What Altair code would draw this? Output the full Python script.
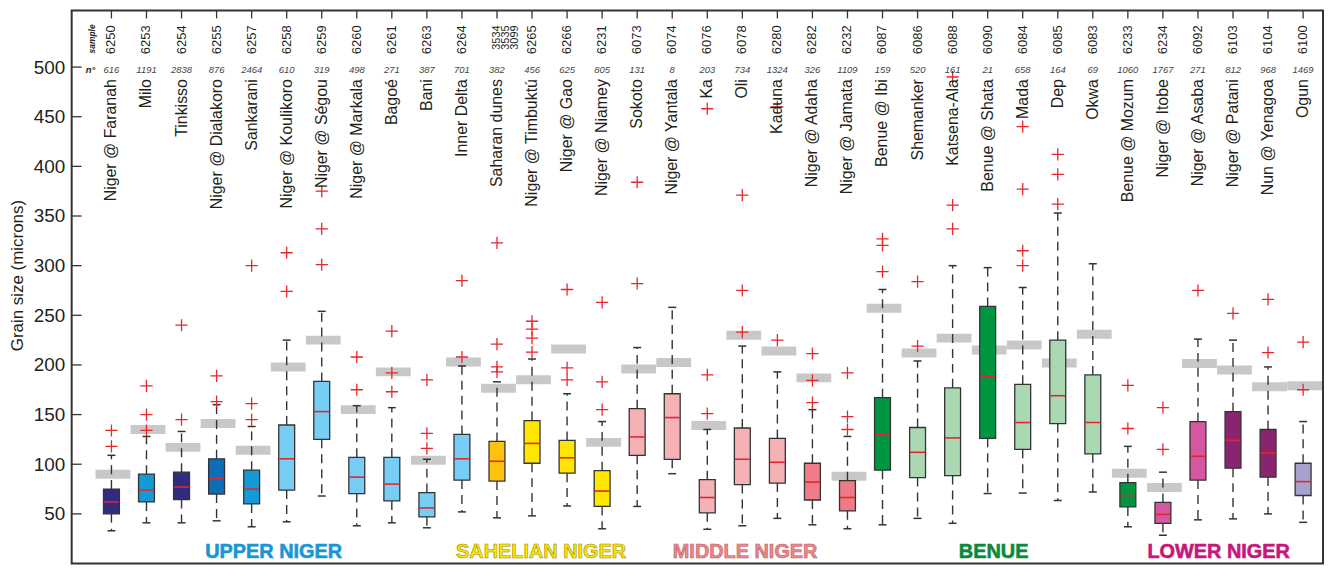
import altair as alt
import pandas as pd

names = ["Niger @ Faranah", "Milo", "Tinkisso", "Niger @ Dialakoro", "Sankarani",
         "Niger @ Koulikoro", "Niger @ Ségou", "Niger @ Markala", "Bagoé", "Bani",
         "Inner Delta", "Saharan dunes", "Niger @ Timbuktú", "Niger @ Gao", "Niger @ Niamey",
         "Sokoto", "Niger @ Yantala", "Ka", "Oli", "Kaduna", "Niger @ Adaha", "Niger @ Jamata",
         "Benue @ Ibi", "Shemanker", "Katsena-Ala", "Benue @ Shata", "Mada", "Dep", "Okwa",
         "Benue @ Mozum", "Niger @ Itobe", "Niger @ Asaba", "Niger @ Patani", "Nun @ Yenagoa", "Ogun"]
samples = ["6250", "6253", "6254", "6255", "6257", "6258", "6259", "6260", "6261", "6263",
           "6264", "3534\n3535\n3099", "6265", "6266", "6231", "6073", "6074", "6076", "6078",
           "6280", "6282", "6232", "6087", "6086", "6088", "6090", "6084", "6085", "6083",
           "6233", "6234", "6092", "6103", "6104", "6100"]
n_grains = ["616", "1191", "2838", "876", "2464", "610", "319", "498", "271", "387", "701",
            "382", "456", "625", "805", "131", "8", "203", "734", "1324", "326", "1109", "159",
            "520", "161", "21", "658", "164", "69", "1060", "1767", "271", "812", "968", "1469"]

q1 = [50, 62, 64.5, 70, 60, 74, 125, 70.5, 63, 47, 84, 83, 101, 91, 57.5, 109, 105, 51, 79.5,
      81, 64, 53, 94, 86.5, 88.5, 126, 115, 141, 110.5, 57, 40.5, 84, 96, 87, 68.5]
median = [62, 74, 77, 86, 75, 105.5, 153, 87, 80, 56, 105.5, 103, 121, 106.5, 73, 127.5, 147,
          66.5, 105, 102, 82, 66.5, 130, 112, 126.5, 188, 142, 169, 142, 68.5, 49.5, 108, 124,
          111.5, 82.5]
q3 = [75, 90, 92, 105.5, 94, 139.5, 183.5, 107, 107, 71.5, 130, 123, 144, 124, 93.5, 156, 171,
      84.5, 136.5, 126, 101, 83.5, 167, 137, 177, 259, 180.5, 225, 190, 81.5, 61.5, 143, 153,
      135, 101]
whisk_lo = [33, 41, 41, 43, 37, 42, 68, 38, 41, 36, 52, 46, 48, 58, 35, 57.5, 90.5, 34.5, 38,
            45.5, 39, 35, 39, 45.5, 40.5, 70.5, 71, 63.5, 72, 37, 28.5, 44, 45, 50, 41.5]
whisk_hi = [109, 128, 133, 160, 138, 225, 254, 159, 157, 105, 199, 183, 206, 171, 143, 217.5,
            258, 135, 219, 193, 155, 128, 276, 204, 300, 298, 278, 353, 302, 118, 92, 226,
            225, 198, 143]
mean_size = [90, 135, 117, 141, 114, 198, 225, 155, 193, 104, 203, 176.5, 185, 216, 122, 196,
             202.5, 139, 230, 214, 187, 88, 257, 212, 227, 215, 220, 202, 231, 91, 76.5, 201.5,
             195, 178, 179]
outliers = [[118, 134], [134, 150, 179], [145, 240], [163, 189], [145, 161, 300], [274, 313],
            [301, 337, 375], [175, 208], [173, 192, 234], [116, 131, 185], [208, 285],
            [193, 198, 221, 323], [213, 227, 236, 244], [185, 197, 276], [155, 183, 263],
            [282, 384], [], [151, 190, 458], [233, 275, 371], [225, 460], [162, 184.5, 211.5],
            [135, 148, 192], [294, 320.5, 327], [219, 284], [337, 361, 490], [],
            [300, 315, 377, 440], [362, 392, 412], [], [136, 179.5], [115, 157], [275], [252],
            [212.5, 266], [175, 223]]
box_colors = ["#302c80", "#159ad7", "#302c80", "#0e6db5", "#159ad7", "#77cdf4", "#77cdf4",
              "#77cdf4", "#77cdf4", "#77cdf4", "#77cdf4", "#ffc20e", "#ffe600", "#ffe600",
              "#ffe600", "#f4b2b7", "#f4b2b7", "#f4b2b7", "#f4b2b7", "#f4b2b7", "#ef7b88",
              "#ef7b88", "#009641", "#a9d8b2", "#a9d8b2", "#009641", "#a9d8b2", "#a9d8b2",
              "#a9d8b2", "#009641", "#d4579f", "#d4579f", "#8b2470", "#8b2470", "#a9a1cd"]

group_names = ["UPPER NIGER", "SAHELIAN NIGER", "MIDDLE NIGER", "BENUE", "LOWER NIGER"]
group_pos = [4.63, 12.26, 18.08, 25.17, 31.59]
group_colors = ["#1a96d4", "#ffe500", "#e98a8e", "#0a8a3c", "#c8177a"]
group_strokes = ["#1a96d4", "#9a8c00", "#c0585e", "#0a8a3c", "#c8177a"]
y_ticks = [50, 100, 150, 200, 250, 300, 350, 400, 450, 500]

FONT = "Liberation Sans"
INK = "#231f20"

df = pd.DataFrame({
    "idx": list(range(len(names))), "name": names, "sample": samples, "n": n_grains,
    "q1": q1, "median": median, "q3": q3, "lo": whisk_lo, "hi": whisk_hi,
    "mean": mean_size, "color": box_colors,
})
df["multi"] = df["sample"].str.contains("\n")
out_df = pd.DataFrame([{"idx": i, "v": v} for i, vals in enumerate(outliers) for v in vals])
grp_df = pd.DataFrame({"g": group_names, "pos": group_pos, "fill": group_colors,
                       "strk": group_strokes, "yv": [12] * len(group_names)})
tick_df = pd.DataFrame({"v": y_ticks})

xs = alt.Scale(domain=[-1.135, 34.568], nice=False, zero=False)
ys = alt.Scale(domain=[0, 557], nice=False, zero=False)
X = alt.X("idx:Q", scale=xs, axis=None)
YAX = alt.Axis(
    values=y_ticks, title="Grain size (microns)", grid=False, domain=False,
    ticks=False, tickSize=0, labelPadding=7, labelFont=FONT, labelFontSize=19,
    labelColor=INK, titleFont=FONT, titleFontSize=17, titleFontWeight="normal",
    titleColor=INK, titleAngle=270, titleAlign="center", titleBaseline="middle",
    titleX=-54.5, titleY=266)


def Y(field):
    return alt.Y(field, scale=ys, axis=YAX)


base = alt.Chart(df)

ytick_layer = alt.Chart(tick_df).mark_rule(color="#333333", strokeWidth=1.3).encode(
    y=Y("v:Q"), x=alt.value(0), x2=alt.value(10))

top_ticks = base.mark_rule(color="#333333", strokeWidth=1.3).encode(
    x=X, y=alt.value(0), y2=alt.value(8))

mean_bars = base.mark_tick(orient="horizontal", size=35, thickness=9, color="#c8c8c8",
                           opacity=1, xOffset=1.5).encode(x=X, y=Y("mean:Q"))

wh_up = base.mark_rule(color="#333333", strokeWidth=1.4, strokeDash=[9, 6]).encode(
    x=X, y=Y("q3:Q"), y2="hi:Q")
wh_lo = base.mark_rule(color="#333333", strokeWidth=1.4, strokeDash=[9, 6]).encode(
    x=X, y=Y("q1:Q"), y2="lo:Q")
cap_hi = base.mark_tick(orient="horizontal", size=8, thickness=1.5, color="#333333",
                        opacity=1).encode(x=X, y=Y("hi:Q"))
cap_lo = base.mark_tick(orient="horizontal", size=8, thickness=1.5, color="#333333",
                        opacity=1).encode(x=X, y=Y("lo:Q"))

boxes = base.transform_calculate(
    xl="datum.idx - 0.227", xr="datum.idx + 0.227").mark_rect(
    stroke="#333333", strokeWidth=1.3).encode(
    x=alt.X("xl:Q", scale=xs, axis=None), x2="xr:Q",
    y=Y("q1:Q"), y2="q3:Q",
    fill=alt.Fill("color:N", scale=None))

medians = base.mark_tick(orient="horizontal", size=15, thickness=1.6, color="#e3262d",
                         opacity=1).encode(x=X, y=Y("median:Q"))

out_layer = alt.Chart(out_df).mark_point(
    shape="M-1,0L1,0M0,-1L0,1", filled=False, stroke="#e8262b", strokeWidth=1.3,
    size=150, opacity=1).encode(x=X, y=Y("v:Q"))

name_text = base.mark_text(angle=270, align="right", baseline="middle", font=FONT,
                           fontSize=16, color=INK).encode(
    x=X, y=alt.value(69), text="name:N")
sample_text = base.transform_filter("!datum.multi").mark_text(
    angle=270, align="right", baseline="middle", font=FONT, fontSize=13, color=INK).encode(
    x=X, y=alt.value(15), text="sample:N")
sample_multi = base.transform_filter("datum.multi").mark_text(
    angle=270, align="right", baseline="middle", font=FONT, fontSize=11, lineHeight=9,
    lineBreak="\n", color=INK).encode(x=X, y=alt.value(15), text="sample:N")
n_text = base.mark_text(baseline="middle", align="center", font=FONT, fontSize=9.5,
                        fontStyle="italic", color="#444444").encode(
    x=X, y=alt.value(59.5), text="n:N")

ann_sample = alt.Chart(pd.DataFrame({"t": ["sample"]})).mark_text(
    angle=270, align="right", baseline="middle", font=FONT, fontSize=8.5,
    fontStyle="italic", fontWeight="bold", color=INK).encode(
    x=alt.value(20), y=alt.value(14), text="t:N")
ann_n = alt.Chart(pd.DataFrame({"t": ["n°"]})).mark_text(
    align="center", baseline="middle", font=FONT, fontSize=9.5,
    fontStyle="italic", fontWeight="bold", color=INK).encode(
    x=alt.value(19), y=alt.value(59.5), text="t:N")

groups = alt.Chart(grp_df).mark_text(
    font=FONT, fontSize=20, fontWeight="bold", baseline="middle", align="center",
    strokeWidth=0.6).encode(
    x=alt.X("pos:Q", scale=xs, axis=None), y=Y("yv:Q"),
    text="g:N", fill=alt.Fill("fill:N", scale=None), stroke=alt.Stroke("strk:N", scale=None))

chart = alt.layer(
    ytick_layer, top_ticks, mean_bars, wh_up, wh_lo, cap_hi, cap_lo, boxes, medians,
    out_layer, name_text, sample_text, sample_multi, n_text, ann_sample, ann_n, groups
).properties(
    width=1258, height=556, autosize="none", background="white",
    padding={"left": 64, "top": 1, "right": 2, "bottom": 1},
).configure_view(stroke="#333333", strokeWidth=2)

chart.save("out.html", embed_options={"renderer": "svg", "actions": False})
